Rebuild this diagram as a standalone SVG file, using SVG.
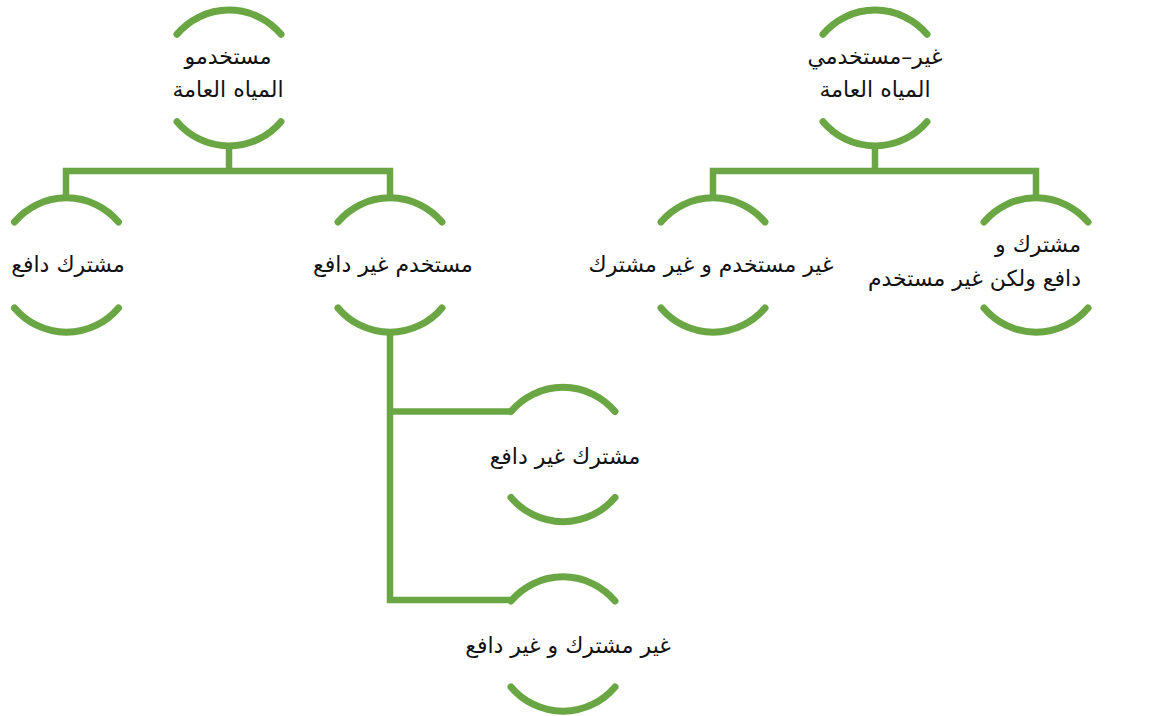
<svg xmlns="http://www.w3.org/2000/svg" width="1159" height="716" viewBox="0 0 1159 716">
<style>
.arc{fill:none;stroke:#6aa744;stroke-width:7;stroke-linecap:round}
.con{fill:none;stroke:#6aa744;stroke-width:6.5;stroke-linejoin:miter;stroke-linecap:butt}
.t{font-family:"DejaVu Sans",sans-serif;font-size:22px;fill:#111;text-anchor:middle}
</style>
<rect width="1159" height="716" fill="#fff"/>
<g id="connectors">
<path class="con" d="M66,197 V171 H390 V197 M229,146 V171"/>
<path class="con" d="M713,197 V171 H1036 V197 M875,146 V171"/>
<path class="con" d="M390,333 V600 H512 M390,411.5 H512"/>
</g>
<g id="n1">
<path class="arc" d="M177,34.3 A68,68 0 0 1 281,34.3 M177,121.7 A68,68 0 0 0 281,121.7"/>
<text class="t" x="228" y="64">مستخدمو</text>
<text class="t" x="228" y="97">المياه العامة</text>
</g>
<g id="n2">
<path class="arc" d="M823,34.3 A68,68 0 0 1 927,34.3 M823,121.7 A68,68 0 0 0 927,121.7"/>
<text class="t" x="875" y="64">غير–مستخدمي</text>
<text class="t" x="875" y="97">المياه العامة</text>
</g>
<g id="n3">
<path class="arc" d="M14.5,222 A68,68 0 0 1 118.5,222 M14.5,308 A68,68 0 0 0 118.5,308"/>
<text class="t" x="68" y="272">مشترك دافع</text>
</g>
<g id="n4">
<path class="arc" d="M338,222 A68,68 0 0 1 442,222 M338,308 A68,68 0 0 0 442,308"/>
<text class="t" x="393" y="272">مستخدم غير دافع</text>
</g>
<g id="n5">
<path class="arc" d="M661,222 A68,68 0 0 1 765,222 M661,308 A68,68 0 0 0 765,308"/>
<text class="t" x="711" y="272">غير مستخدم و غير مشترك</text>
</g>
<g id="n6">
<path class="arc" d="M984,222 A68,68 0 0 1 1088,222 M984,308 A68,68 0 0 0 1088,308"/>
<text class="t" x="1081" y="252" style="text-anchor:end">مشترك و</text>
<text class="t" x="1081" y="286" style="text-anchor:end">دافع ولكن غير مستخدم</text>
</g>
<g id="n7">
<path class="arc" d="M511,411.5 A68,68 0 0 1 615,411.5 M511,497.5 A68,68 0 0 0 615,497.5"/>
<text class="t" x="565" y="464">مشترك غير دافع</text>
</g>
<g id="n8">
<path class="arc" d="M511,601 A68,68 0 0 1 615,601 M511,687 A68,68 0 0 0 615,687"/>
<text class="t" x="568" y="653">غير مشترك و غير دافع</text>
</g>
</svg>
